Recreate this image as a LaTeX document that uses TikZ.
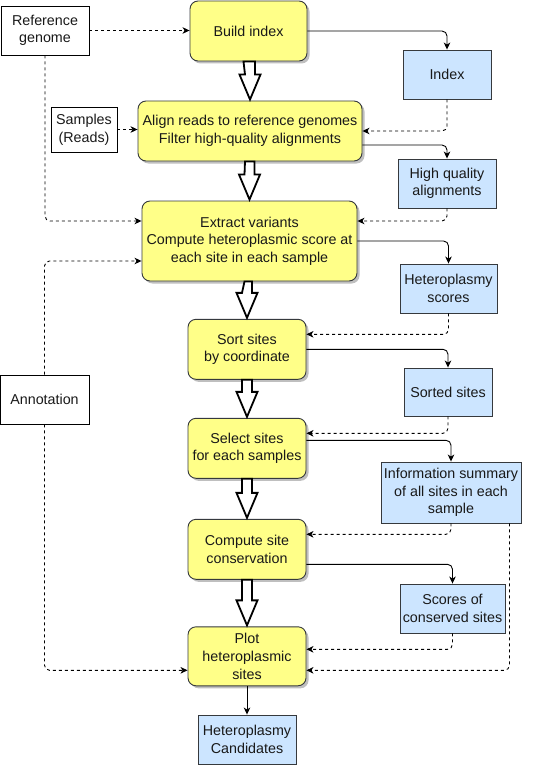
\documentclass[tikz,border=0pt]{standalone}
\usepackage{fontspec}
\setmainfont{Liberation Sans}
\usetikzlibrary{calc,arrows.meta,shadows}
\definecolor{yfill}{HTML}{FFFF88}
\definecolor{bfill}{HTML}{CCE5FF}
\definecolor{bstroke}{HTML}{36393D}
\tikzset{
  base/.style={draw=bstroke, line width=0.9pt, inner sep=0pt, align=center,
    font=\fontsize{14.3}{17.6}\selectfont, text=black!90},
  ybox/.style={base, fill=yfill, rounded corners=8pt,
    drop shadow={shadow xshift=2.5pt, shadow yshift=-2.5pt, opacity=0.25, fill=black}},
  bbox/.style={base, fill=bfill},
  wbox/.style={base, draw=black, fill=white},
  conn/.style={draw=black, line width=0.9pt, rounded corners=5pt,
    -{Stealth[length=7pt,width=6.5pt,inset=2pt]}},
  dconn/.style={conn, dash pattern=on 3pt off 3pt},
  barrow/.style={draw=black, fill=white, line width=1.8pt, line join=miter},
}
\newcommand\blockarr[2]{%
  \draw[barrow] ($(#1.south)!0!(#1.south -| #2.north)+(-5,0)$)
    -- ($(#2.north)+(-5,-26)$) -- ($(#2.north)+(-10.5,-26)$)
    -- ($(#2.north)+(0,-1)$)
    -- ($(#2.north)+(10.5,-26)$) -- ($(#2.north)+(5,-26)$)
    -- ($(#1.south -| #2.north)+(5,0)$) -- cycle;}
\begin{document}
\begin{tikzpicture}[x=1pt,y=-1pt]
\useasboundingbox (0,0) rectangle (534,765);
% white input boxes
\node[wbox, minimum width=88pt, minimum height=49pt] (ref) at (45,30.5) {Reference\\genome};
\node[wbox, minimum width=66pt, minimum height=45pt] (samples) at (84,129.5) {Samples\\(Reads)};
\node[wbox, minimum width=89pt, minimum height=49pt] (annot) at (44.5,399.5) {Annotation};
% yellow process boxes
\node[ybox, minimum width=117pt, minimum height=60pt] (build) at (248.5,31) {Build index};
\node[ybox, minimum width=224pt, minimum height=60pt] (align) at (250,131) {Align reads to reference genomes\\Filter high-quality alignments};
\node[ybox, minimum width=215pt, minimum height=80pt] (extract) at (249.5,241) {Extract variants\\Compute heteroplasmic score at\\each site in each sample};
\node[ybox, minimum width=118pt, minimum height=60pt] (sort) at (247,349.3) {Sort sites\\by coordinate};
\node[ybox, minimum width=118pt, minimum height=60pt] (select) at (247,448.3) {Select sites\\for each samples};
\node[ybox, minimum width=118pt, minimum height=60pt] (compute) at (247,549.3) {Compute site\\conservation};
\node[ybox, minimum width=118pt, minimum height=59pt] (plot) at (247,656.3) {Plot\\heteroplasmic\\sites};
% blue data boxes
\node[bbox, minimum width=88pt, minimum height=49pt] (index) at (447,74.5) {Index};
\node[bbox, minimum width=98pt, minimum height=49pt] (hq) at (447,183.5) {High quality\\alignments};
\node[bbox, minimum width=97pt, minimum height=49pt] (hs) at (448.5,288.5) {Heteroplasmy\\scores};
\node[bbox, minimum width=88pt, minimum height=48pt] (sorted) at (448,392) {Sorted sites};
\node[bbox, minimum width=140pt, minimum height=61pt] (info) at (451,492.5) {Information summary\\of all sites in each\\sample};
\node[bbox, minimum width=105pt, minimum height=49pt] (scores) at (452.5,608.5) {Scores of\\conserved sites};
\node[bbox, minimum width=98pt, minimum height=49pt] (cand) at (247,739.5) {Heteroplasmy\\Candidates};
% block arrows
\blockarr{build}{align}
\blockarr{align}{extract}
\blockarr{extract}{sort}
\blockarr{sort}{select}
\blockarr{select}{compute}
\blockarr{compute}{plot}
% connectors
\draw[dconn] (ref.east) -- (ref.east -| build.west);
\draw[conn] (build.east) -| (index.north);
\draw[dconn] (index.south) |- (align.east);
\draw[dconn] (samples.east) -- (samples.east -| align.west);
\draw[conn] ($(align.east)+(0,14)$) -| (hq.north);
\draw[dconn] (hq.south) |- ($(extract.east)+(0,-20)$);
\draw[dconn] (ref.south) |- ($(extract.west)+(0,-20)$);
\draw[dconn] (annot.north) |- ($(extract.west)+(0,20)$);
\draw[conn] (extract.east) -| (hs.north);
\draw[dconn] (hs.south) |- ($(sort.east)+(0,-15)$);
\draw[conn] (sort.east) -| (sorted.north);
\draw[dconn] (sorted.south) |- ($(select.east)+(0,-15)$);
\draw[conn] ($(select.east)+(0,-8)$) -| (info.north);
\draw[dconn] (info.south) |- ($(compute.east)+(0,-15)$);
\draw[dconn] ($(info.south east)+(-12,0)$) |- ($(plot.east)+(0,14)$);
\draw[conn] ($(compute.east)+(0,15)$) -| (scores.north);
\draw[dconn] (scores.south) |- ($(plot.east)+(0,-7)$);
\draw[dconn] (annot.south) |- ($(plot.west)+(0,14)$);
\draw[conn] (plot.south) -- (cand.north);
\end{tikzpicture}
\end{document}
